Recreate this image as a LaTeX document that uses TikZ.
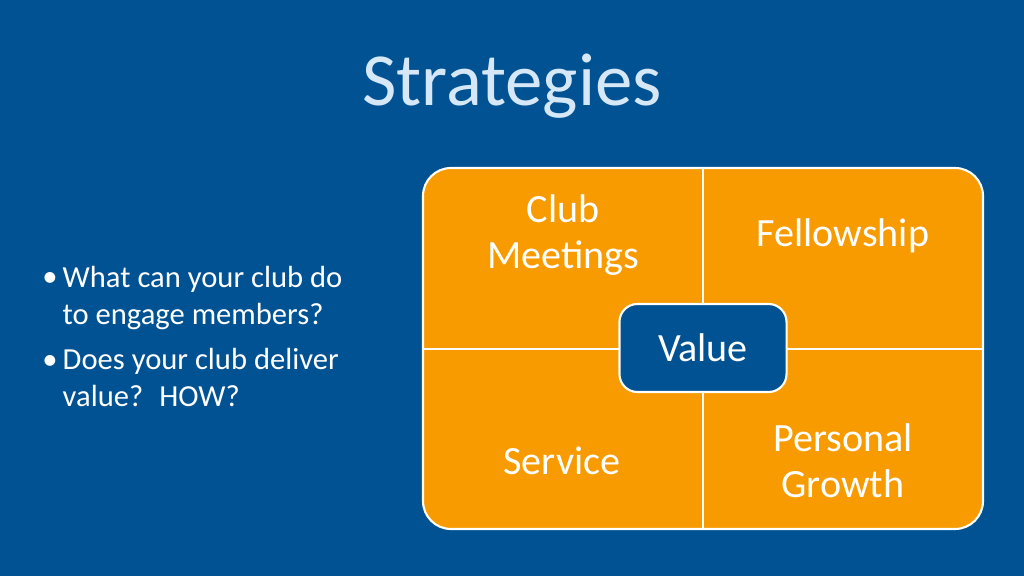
\documentclass[tikz,border=0pt]{standalone}
\usepackage{fontspec}
\setmainfont{Carlito}
\definecolor{SlideBlue}{RGB}{0, 82, 147}
\definecolor{PanelOrange}{RGB}{248, 155, 0}
\definecolor{TitleBlue}{RGB}{214, 232, 248}
\usetikzlibrary{positioning}
\begin{document}
\begin{tikzpicture}[x=0.01cm, y=-0.01cm]
        \tikzstyle{quad} = [font=\fontsize{11.4}{13.2}\selectfont, text=white, align=center]
        \tikzstyle{bullet} = [anchor=north west, text=white, align=left, font=\fontsize{8.7}{10.3}\selectfont, inner sep=0pt]
        \tikzstyle{divider} = [white, line width=0.6pt]

        % Background
        \fill[SlideBlue] (0,0) rectangle (1024,576);
        \useasboundingbox (0,0) rectangle (1024,576);

        % Title
        \node (title) [font=\fontsize{21.3}{24}\selectfont, text=TitleBlue] at (512,86) {Strategies};

        % Bullets
        \node (dotA) [text=white, font=\fontsize{8.7}{10}\selectfont] at (50,280) {•};
        \node (itemA) [bullet] at (62,266) {What can your club do\\to engage members?};
        \node (dotB) [text=white, font=\fontsize{8.7}{10}\selectfont] at (50,362) {•};
        \node (itemB) [bullet] at (62,348) {Does your club deliver\\value?~ HOW?};

        % Panel
        \draw[white, line width=0.6pt, fill=PanelOrange, rounded corners=0.28cm] (423,168) rectangle (983,529);
        \coordinate (top) at (703,168);
        \coordinate (bottom) at (703,529);
        \coordinate (left) at (423,349);
        \coordinate (right) at (983,349);
        \draw[divider] (top) -- (bottom);
        \draw[divider] (left) -- (right);

        % Quadrant labels
        \node (meetings) [quad] at (563,235) {Club\\Meetings};
        \node (fellowship) [quad] at (843,236) {Fellowship};
        \node (service) [quad] at (562,461) {Service};
        \node (growth) [quad] at (843,461) {Personal\\Growth};

        % Centre
        \node (value) [quad, fill=SlideBlue, draw=white, line width=0.6pt, rounded corners=0.18cm, minimum width=1.67cm, minimum height=0.88cm] at (703,348) {Value};
    \end{tikzpicture}
\end{document}
